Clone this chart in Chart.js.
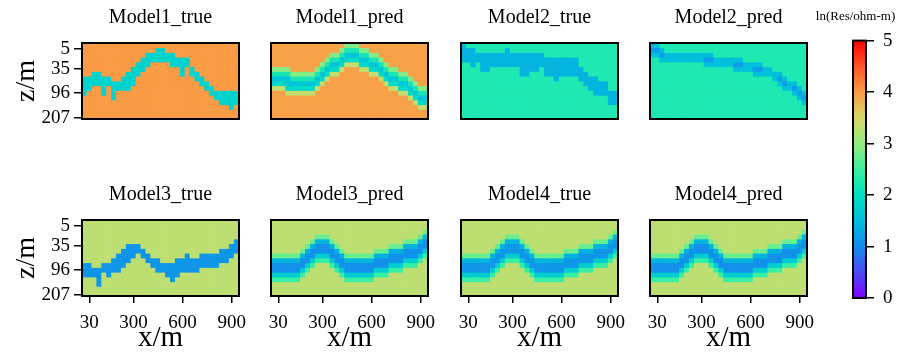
<!DOCTYPE html>
<html>
<head>
<meta charset="utf-8">
<script src="https://cdn.jsdelivr.net/npm/chart.js@4.4.0/dist/chart.umd.min.js"></script>
<style>
  body { margin: 0; background: #fff; width: 907px; height: 356px; position: relative; overflow: hidden; }
  canvas { position: absolute; }
</style>
</head>
<body>
<script>
// grid: 32 columns (x, m) by 16 rows (depth index)
const xCenters = [0, 30, 60, 90, 120, 150, 180, 210, 240, 270, 300, 330, 360, 390, 420, 450,
  480, 510, 540, 570, 600, 630, 660, 690, 720, 750, 780, 810, 840, 870, 900, 930];
const xTickVals = [30, 300, 600, 900];
const nRows = 16;
const zTickRows = [1.3, 5.4, 10.5, 15.8];
const zTickLabels = ["5", "35", "96", "207"];

// layer top / bottom row for every column
const m1TrueTop = [7,7,6,6,7,7,8,8,7,6,5,4,3,2,2,1,1,2,2,3,3,3,5,6,7,8,9,10,10,10,10,10];
const m1TrueBot = [10,9,8,8,10,8,11,9,9,9,8,6,5,4,3,3,3,3,4,4,6,4,6,7,8,9,10,11,12,12,13,12];
const m1PredTop = [6,6,6,6,7,7,7,7,7,6,5,4,3,3,2,1,1,1,2,2,3,3,4,5,6,6,7,7,8,9,10,10];
const m1PredBot = [8,8,8,9,9,9,9,9,9,8,7,6,5,5,4,3,3,3,4,4,5,5,6,7,8,8,9,9,10,11,12,12];
const m2TrueTop = [0,1,1,2,2,2,2,2,2,1,2,2,2,2,2,2,2,3,3,3,3,3,3,3,5,6,7,7,8,8,10,10];
const m2TrueBot = [3,3,4,3,5,5,4,4,4,4,4,4,6,6,5,5,4,6,6,7,6,6,6,6,7,8,9,10,10,10,12,12];
const m2PredTop = [0,0,1,2,2,2,2,2,2,2,2,2,2,3,3,3,3,3,3,4,4,4,4,5,5,6,6,7,8,8,9,10];
const m2PredBot = [2,2,3,3,3,3,3,3,3,3,3,4,4,4,4,4,4,5,5,5,5,6,6,6,6,7,8,9,9,10,11,12];
const m3TrueTop = [9,9,10,10,9,9,8,7,6,5,5,5,6,7,8,8,9,9,9,8,8,7,8,8,7,7,7,7,6,6,5,4];
const m3TrueBot = [11,11,11,13,10,11,10,10,9,8,7,6,7,8,9,10,10,11,12,11,10,10,10,10,9,9,9,9,8,8,7,6];
const m3PredTop = [8,8,8,8,8,8,7,6,5,4,4,4,5,6,7,8,8,8,8,8,8,7,7,7,6,6,6,5,5,5,4,3];
const m3PredBot = [11,11,11,11,11,11,10,9,8,7,7,7,8,9,10,11,11,11,11,11,11,10,10,10,9,9,9,8,8,8,7,6];
const m4TrueTop = [8,8,8,8,8,8,7,6,5,4,4,4,5,6,7,8,8,8,8,8,8,7,7,7,6,6,6,5,5,5,4,3];
const m4TrueBot = [11,11,11,11,11,11,10,9,8,7,7,7,8,9,10,11,11,11,11,11,11,10,10,10,9,9,9,8,8,8,7,6];
const m4PredTop = [8,8,8,8,8,8,7,6,5,4,4,4,5,6,7,8,8,8,8,8,8,7,7,7,6,6,6,5,5,5,4,3];
const m4PredBot = [11,11,11,11,11,11,10,9,8,7,7,7,8,9,10,11,11,11,11,11,11,10,10,10,9,9,9,8,8,8,7,6];

// ln(Res): [background, layer top edge, layer core, layer bottom edge, row above, row below]
const m1TrueRes = [4.0, 1.8, 1.8, 1.8, 4.0, 4.0];
const m1PredRes = [3.95, 2.2, 1.6, 1.9, 2.9, 3.35];
const m2TrueRes = [2.25, 1.4, 1.4, 1.4, 2.25, 2.25];
const m2PredRes = [2.25, 1.5, 1.15, 1.55, 2.25, 2.25];
const m3TrueRes = [3.3, 1.1, 1.1, 1.1, 3.3, 3.3];
const m3PredRes = [3.3, 1.4, 1.05, 1.7, 2.75, 2.45];
const m4TrueRes = [3.3, 1.4, 1.1, 1.7, 2.75, 2.45];
const m4PredRes = [3.3, 1.4, 1.05, 1.7, 2.75, 2.45];

// colour bar: values and the colours
const cbTicks = [0, 1, 2, 3, 4, 5];
const cmapVals = [0, 0.5, 1, 1.5, 2, 2.5, 3, 3.5, 4, 4.5, 5];
const cmapRGB = [[128,0,255],[75,75,245],[20,140,235],[0,190,220],[0,225,195],[60,240,160],
  [150,235,125],[215,215,105],[250,155,70],[255,85,40],[255,0,0]];

const SERIF = "'Liberation Serif', 'Times New Roman', serif";
Chart.defaults.font.family = SERIF;
Chart.defaults.color = "#000";

function cmap(v) {
  const n = cmapVals.length;
  if (v <= cmapVals[0]) return "rgb(" + cmapRGB[0].join(",") + ")";
  if (v >= cmapVals[n - 1]) return "rgb(" + cmapRGB[n - 1].join(",") + ")";
  let k = 0;
  while (v > cmapVals[k + 1]) k++;
  const f = (v - cmapVals[k]) / (cmapVals[k + 1] - cmapVals[k]);
  const c = cmapRGB[k].map((a, j) => Math.round(a + f * (cmapRGB[k + 1][j] - a)));
  return "rgb(" + c.join(",") + ")";
}

function cellRes(top, bot, res, r, c) {
  const t = top[c], b = bot[c];
  if (r === t) return res[1];
  if (r === b) return res[3];
  if (r > t && r < b) return res[2];
  if (r === t - 1) return res[4];
  if (r === b + 1) return res[5];
  return res[0];
}

const framePlugin = {
  id: "frame",
  afterDatasetsDraw(chart) {
    const { ctx, chartArea: a } = chart;
    ctx.save();
    ctx.strokeStyle = "#000";
    ctx.lineWidth = 2;
    ctx.strokeRect(a.left, a.top, a.right - a.left, a.bottom - a.top);
    ctx.restore();
  }
};

function addCanvas(left, top, w, h) {
  const c = document.createElement("canvas");
  c.width = w; c.height = h;
  c.style.left = left + "px"; c.style.top = top + "px";
  c.style.width = w + "px"; c.style.height = h + "px";
  document.body.appendChild(c);
  return c;
}

const panels = [
  ["Model1_true", m1TrueTop, m1TrueBot, m1TrueRes],
  ["Model1_pred", m1PredTop, m1PredBot, m1PredRes],
  ["Model2_true", m2TrueTop, m2TrueBot, m2TrueRes],
  ["Model2_pred", m2PredTop, m2PredBot, m2PredRes],
  ["Model3_true", m3TrueTop, m3TrueBot, m3TrueRes],
  ["Model3_pred", m3PredTop, m3PredBot, m3PredRes],
  ["Model4_true", m4TrueTop, m4TrueBot, m4TrueRes],
  ["Model4_pred", m4PredTop, m4PredBot, m4PredRes],
];

const panelLeft = [82, 271, 461, 650];
const panelTop = [43, 220];

panels.forEach(([title, top, bot, res], i) => {
  const col = i % 4, row = Math.floor(i / 4);
  const showY = col === 0, showX = row === 1;
  const h = showX ? 179 : 135;
  const canvas = addCanvas(panelLeft[col] - 82, panelTop[row] - 43, 247, h);

  const datasets = [];
  for (let r = 0; r < nRows; r++) {
    datasets.push({
      data: xCenters.map(() => [r, r + 1]),
      backgroundColor: xCenters.map((x, c) => cmap(cellRes(top, bot, res, r, c))),
    });
  }

  new Chart(canvas, {
    type: "bar",
    data: { labels: xCenters, datasets: datasets },
    options: {
      responsive: false,
      animation: false,
      devicePixelRatio: 1,
      layout: { padding: { left: showY ? 0 : 82, right: 8, top: 0, bottom: showX ? 0 : 16 } },
      datasets: { bar: { grouped: false, barPercentage: 1, categoryPercentage: 1, borderWidth: 0 } },
      plugins: {
        legend: { display: false },
        tooltip: { enabled: false },
        title: {
          display: true, text: title, fullSize: false, color: "#000",
          font: { family: SERIF, size: 20, weight: "normal" },
          padding: { top: 6, bottom: 13 },
        },
      },
      scales: {
        x: {
          display: showX,
          offset: true,
          grid: { display: true, offset: false, drawOnChartArea: false, tickLength: 7, color: "#000", lineWidth: 1.5 },
          border: { display: false },
          ticks: { color: "#000", font: { size: 19 }, padding: 9, maxRotation: 0, autoSkip: false },
          afterBuildTicks: s => { s.ticks = s.ticks.filter(t => xTickVals.includes(xCenters[t.value])); },
          afterFit: s => { s.height = showX ? 60 : 0; s.paddingLeft = 0; s.paddingRight = 0; },
          title: { display: true, text: "x/m", color: "#000", font: { size: 29 }, padding: { top: 0, bottom: 0 } },
        },
        y: {
          display: showY,
          reverse: true,
          min: 0,
          max: nRows,
          grid: { display: true, drawOnChartArea: false, tickLength: 8, color: "#000", lineWidth: 1.5 },
          border: { display: false },
          ticks: { color: "#000", font: { size: 19 }, padding: 4, autoSkip: false, callback: (v, idx) => zTickLabels[idx] },
          afterBuildTicks: s => { s.ticks = zTickRows.map(v => ({ value: v })); },
          afterFit: s => { s.width = showY ? 82 : 0; s.paddingTop = 0; s.paddingBottom = 0; },
          title: { display: true, text: "z/m", color: "#000", font: { size: 28 }, padding: { top: 10, bottom: 0 } },
        },
      },
    },
    plugins: [framePlugin],
  });
});

// colour bar
const cbCanvas = addCanvas(804, 0, 103, 356);
new Chart(cbCanvas, {
  type: "bar",
  data: {
    labels: ["ln"],
    datasets: [{
      data: [[cbTicks[0], cbTicks[cbTicks.length - 1]]],
      borderWidth: 0,
      backgroundColor: c => {
        const a = c.chart.chartArea;
        if (!a) return "transparent";
        const g = c.chart.ctx.createLinearGradient(0, a.bottom, 0, a.top);
        for (let k = 0; k <= 50; k++) g.addColorStop(k / 50, cmap(5 * k / 50));
        return g;
      },
    }],
  },
  options: {
    responsive: false,
    animation: false,
    devicePixelRatio: 1,
    layout: { padding: { left: 0, right: 0, top: 0, bottom: 58 } },
    datasets: { bar: { barPercentage: 1, categoryPercentage: 1 } },
    plugins: {
      legend: { display: false },
      tooltip: { enabled: false },
      title: {
        display: true, text: "ln(Res/ohm-m)", color: "#000",
        font: { family: SERIF, size: 13, weight: "normal" },
        padding: { top: 9, bottom: 16 },
      },
    },
    scales: {
      x: { display: false },
      yl: {
        position: "left", display: true,
        grid: { display: false }, border: { display: false }, ticks: { display: false },
        afterFit: s => { s.width = 49; },
      },
      y: {
        position: "right",
        min: 0, max: 5,
        grid: { display: true, drawOnChartArea: false, tickLength: 8, color: "#000", lineWidth: 1.5 },
        border: { display: false },
        ticks: { stepSize: 1, color: "#000", font: { size: 19 }, padding: 9 },
        afterBuildTicks: s => { s.ticks = cbTicks.map(v => ({ value: v })); },
        afterFit: s => { s.width = 41; s.paddingTop = 0; s.paddingBottom = 0; },
      },
    },
  },
  plugins: [framePlugin],
});
</script>
</body>
</html>
